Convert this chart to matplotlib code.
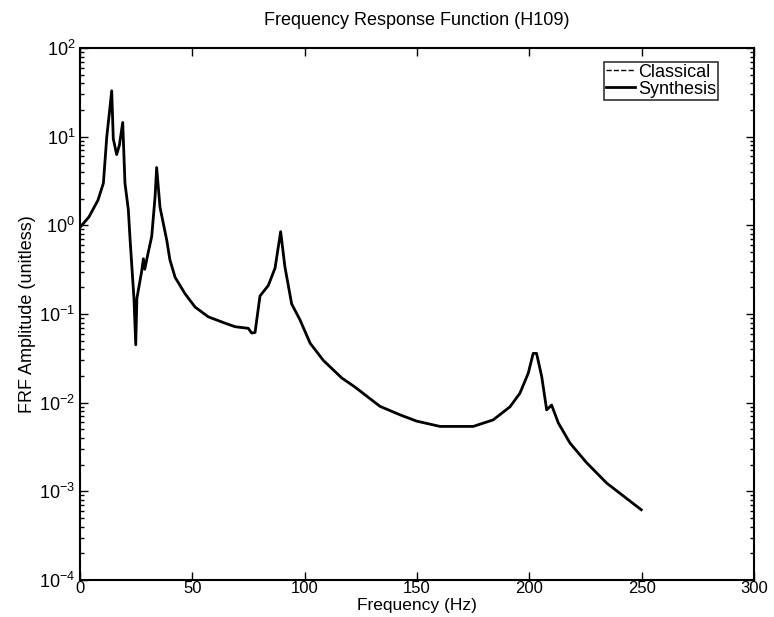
import numpy as np
import matplotlib.pyplot as plt
from matplotlib.ticker import FixedLocator, NullFormatter

plt.rcParams['font.family'] = ['Liberation Sans', 'DejaVu Sans']

# Data (frequency in Hz, FRF amplitude)
freq = [0, 4, 8, 10.4, 11.9, 13, 14.1, 14.8, 16.3, 17.5, 19.0, 20.0, 21.5,
        22.3, 24.0, 24.8, 25.3, 27.4, 28.2, 28.8, 30, 31.9, 33.4, 34.1, 35.6,
        38.6, 40, 42.3, 46.7, 51.2, 57.1, 64.5, 69, 74.9, 76.4, 77.9, 80.1,
        83.8, 86.8, 89.3, 91.2, 94.2, 97.9, 102.4, 108.3, 116.5, 122.4, 133.5,
        142.4, 149.8, 160.2, 175, 183.9, 191.4, 195.8, 199.5, 201.7, 203.2,
        205.5, 207.7, 209.9, 212.9, 218.1, 225.5, 234.4, 243.3, 249.8]
synthesis = [0.95, 1.25, 1.93, 3.0, 10, 18, 33, 9.5, 6.3, 8, 14.5, 3.0, 1.5,
             0.68, 0.15, 0.045, 0.15, 0.3, 0.42, 0.32, 0.45, 0.75, 2.1, 4.5, 1.6,
             0.68, 0.41, 0.26, 0.17, 0.12, 0.093, 0.079, 0.072, 0.069, 0.061,
             0.062, 0.16, 0.21, 0.33, 0.85, 0.34, 0.13, 0.086, 0.047, 0.030,
             0.019, 0.015, 0.0091, 0.0073, 0.0062, 0.0054, 0.0054, 0.0064,
             0.009, 0.0128, 0.0215, 0.036, 0.036, 0.0197, 0.0083, 0.0094,
             0.0059, 0.0035, 0.0021, 0.00124, 0.00083, 0.00062]
classical = list(synthesis)  # the two curves lie on top of each other

y_major = [1e-4, 1e-3, 1e-2, 1e-1, 1e0, 1e1, 1e2]

fig = plt.figure(figsize=(7.74, 6.17), dpi=100)
ax = fig.add_axes([0.1034, 0.06, 0.8708, 0.862])

ax.semilogy(freq, classical, color='black', linestyle='--', linewidth=1, label='Classical')
ax.semilogy(freq, synthesis, color='black', linestyle='-', linewidth=2, label='Synthesis')

ax.set_xlim(0, 300)
ax.set_ylim(1e-4, 1e2)
ax.set_xticks([0, 50, 100, 150, 200, 250, 300])
ax.yaxis.set_major_locator(FixedLocator(y_major))
minors = [m * d for d in y_major[:-1] for m in range(2, 10)]
ax.yaxis.set_minor_locator(FixedLocator(minors))
ax.yaxis.set_minor_formatter(NullFormatter())
ax.tick_params(which='both', direction='in', top=True, right=True, labelsize=13)
ax.tick_params(axis='x', pad=1, labelsize=12)
ax.tick_params(which='major', length=6, width=1)
ax.tick_params(which='minor', length=3, width=1)
for sp in ax.spines.values():
    sp.set_linewidth(1.5)

ax.set_xlabel('Frequency (Hz)', fontsize=12.5)
ax.xaxis.set_label_coords(0.5, -0.034)
ax.set_ylabel('FRF Amplitude (unitless)', fontsize=13, labelpad=2)
ax.set_title('Frequency Response Function (H109)', fontsize=13, pad=17)

leg = ax.legend(loc='upper right', bbox_to_anchor=(0.947, 0.974), fontsize=13,
                frameon=True, fancybox=False, edgecolor='black',
                handlelength=1.6, handletextpad=0.2, borderpad=0.1,
                labelspacing=0.0, borderaxespad=0)
leg.get_frame().set_linewidth(1.2)

fig.savefig('out.png', dpi=100)
